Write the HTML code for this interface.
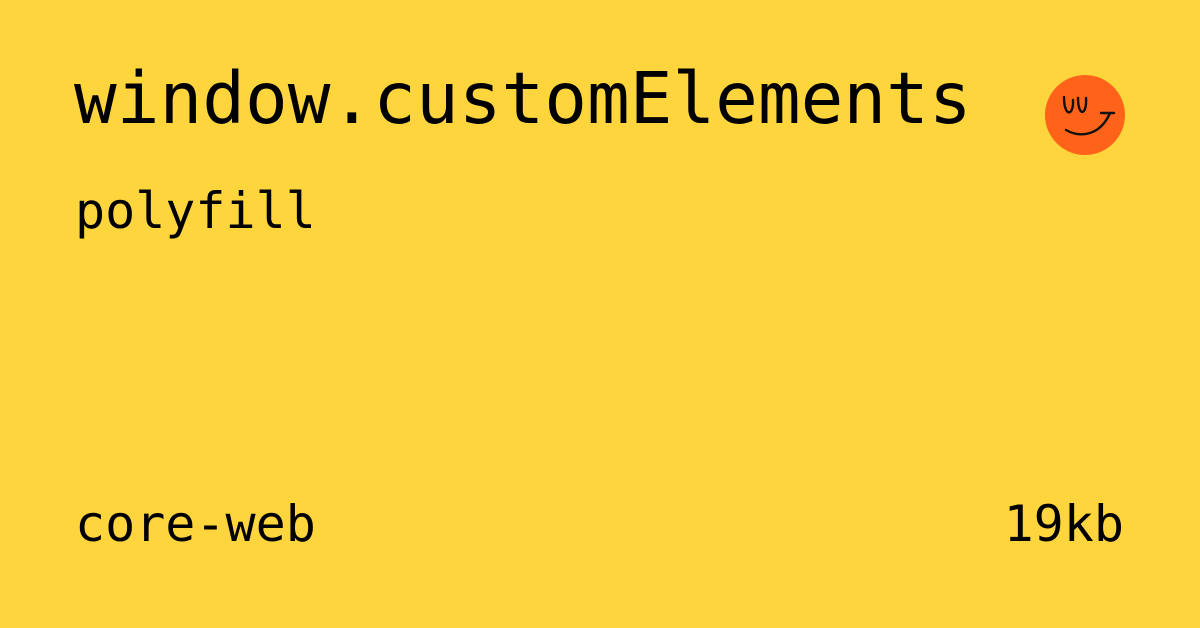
<!DOCTYPE html>
<html><head><meta charset="utf-8"><style>
html,body{margin:0;padding:0}
body{width:1200px;height:628px;background:#ffd53d;position:relative;overflow:hidden;font-family:"DejaVu Sans Mono","Liberation Mono",monospace;color:#000}
.t{position:absolute;white-space:nowrap;line-height:1}
</style></head><body>
<div class="t" style="left:74px;top:63px;font-size:71px">window.customElements</div>
<div class="t" style="left:75px;top:186px;font-size:50px">polyfill</div>
<div class="t" style="left:75px;top:499px;font-size:50px">core-web</div>
<div class="t" style="right:76px;top:499px;font-size:50px">19kb</div>
<svg style="position:absolute;left:1040px;top:70px" width="90" height="90" viewBox="0 0 90 90">
<circle cx="45" cy="45" r="40" fill="#ff6319"/>
<g fill="none" stroke="#111" stroke-width="2.4" stroke-linecap="round">
<path d="M24 27 C24 48 34 46 33 30"/>
<path d="M38 28 C38 47 47 46 46 28"/>
<path d="M26 60 C40 68 60 66 70 43"/>
<path d="M61 43 L74 43"/>
</g>
</svg>
</body></html>
